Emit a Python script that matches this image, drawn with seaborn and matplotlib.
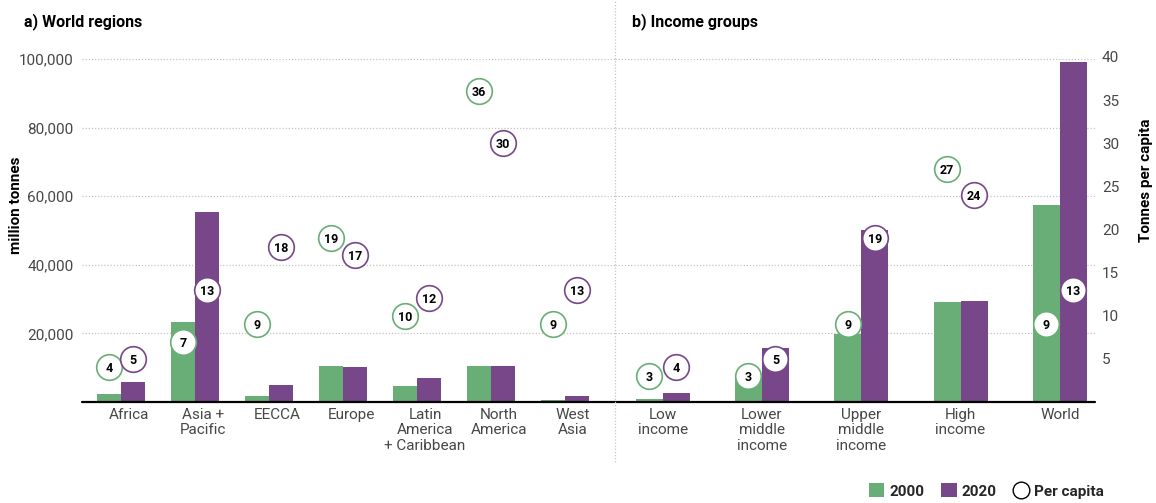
import matplotlib
matplotlib.use("Agg")
import matplotlib.pyplot as plt
import matplotlib.transforms as mtransforms
from matplotlib.lines import Line2D
from matplotlib.patches import Patch
import seaborn as sns
import pandas as pd

sns.set_theme(style="white")
plt.rcParams['font.family'] = ['Roboto', 'DejaVu Sans']

# ---------------- data ----------------
regions = ["Africa", "Asia +\nPacific", "EECCA", "Europe", "Latin\nAmerica\n+ Caribbean",
           "North\nAmerica", "West\nAsia"]
regions_2000 = [2300, 23300, 1800, 10500, 4700, 10600, 700]
regions_2020 = [5800, 55400, 5000, 10100, 7000, 10500, 1800]
regions_pc_2000 = [4, 7, 9, 19, 10, 36, 9]
regions_pc_2020 = [5, 13, 18, 17, 12, 30, 13]

income = ["Low\nincome", "Lower\nmiddle\nincome", "Upper\nmiddle\nincome", "High\nincome", "World"]
income_2000 = [900, 7800, 19700, 29100, 57400]
income_2020 = [2600, 15800, 50100, 29400, 99100]
income_pc_2000 = [3, 3, 9, 27, 9]
income_pc_2020 = [4, 5, 19, 24, 13]

years = ["2000", "2020"]
left_ticks = [20000, 40000, 60000, 80000, 100000]
left_ticklabels = ["20,000", "40,000", "60,000", "80,000", "100,000"]
right_ticks = [5, 10, 15, 20, 25, 30, 35, 40]

GREEN = "#68AE76"
PURPLE = "#77478A"
palette = {"2000": GREEN, "2020": PURPLE}
TXT = "#474747"
GRID = "#c4c4c4"

W, H = 1156, 503
fig = plt.figure(figsize=(W / 100, H / 100), dpi=100)
bottom = (H - 402) / H
height = 352 / H
ax1 = fig.add_axes([82 / W, bottom, (615 - 82) / W, height])
ax2 = fig.add_axes([615 / W, bottom, (1095 - 615) / W, height], sharey=ax1)

def make_df(cats, v0, v1):
    rows = []
    for c, a, b in zip(cats, v0, v1):
        rows.append((c, "2000", a))
        rows.append((c, "2020", b))
    return pd.DataFrame(rows, columns=["cat", "year", "value"])

df1 = make_df(regions, regions_2000, regions_2020)
df2 = make_df(income, income_2000, income_2020)

w1, w2 = 0.66, 0.544
sns.barplot(data=df1, x="cat", y="value", hue="year", order=regions, hue_order=years,
            palette=palette, width=w1, saturation=1, linewidth=0, legend=False, ax=ax1, zorder=2)
sns.barplot(data=df2, x="cat", y="value", hue="year", order=income, hue_order=years,
            palette=palette, width=w2, saturation=1, linewidth=0, legend=False, ax=ax2, zorder=2)

ax1.set_xlim(-0.527, 6.676)
ax2.set_xlim(-0.48, 4.354)
ax1.set_ylim(0, 100000 * 352 / 343)

# per-capita circles on twin axes
PC_TOP = 40.8
def circles(ax, cats, pc0, pc1, width, show):
    tw = ax.twinx()
    tw.set_ylim(0, PC_TOP)
    for s in tw.spines.values():
        s.set_visible(False)
    tw.grid(False)
    for i in range(len(cats)):
        for val, col, dx in ((pc0[i], GREEN, -width / 4), (pc1[i], PURPLE, width / 4)):
            x = i + dx
            tw.scatter([x], [val], s=340, facecolor="white", edgecolor=col,
                       linewidth=1.2, zorder=6)
            tw.text(x, val, str(val), ha="center", va="center_baseline", fontsize=9,
                    fontweight="bold", color="black", zorder=7)
    if show:
        tw.set_yticks(right_ticks)
        tw.tick_params(axis="y", left=False, right=False, length=0, pad=5,
                       labelsize=11, labelcolor=TXT)
    else:
        tw.set_yticks([])
        tw.tick_params(axis="y", left=False, right=False, length=0)
    return tw

circles(ax1, regions, regions_pc_2000, regions_pc_2020, w1, False)
circles(ax2, income, income_pc_2000, income_pc_2020, w2, True)

for ax in (ax1, ax2):
    for s in ax.spines.values():
        s.set_visible(False)
    ax.set_xlabel("")
    ax.set_ylabel("")
    ax.set_yticks(left_ticks)
    ax.yaxis.grid(True, color=GRID, linestyle=(0, (1, 1.5)), linewidth=0.9)
    ax.set_axisbelow(True)
    ax.axhline(0, color="black", linewidth=1.6, zorder=5, clip_on=False)
    ax.tick_params(axis="x", length=0, pad=4, labelsize=11, labelcolor=TXT)
    ax.tick_params(axis="y", left=False, right=False, length=0)
    for lab in ax.get_xticklabels():
        lab.set_linespacing(1.15)

ax1.set_yticklabels(left_ticklabels)
ax1.tick_params(axis="y", length=0, pad=6, labelsize=11, labelcolor=TXT)
ax2.tick_params(axis="y", labelleft=False, labelright=False)

# shift region labels slightly right as in the reference
offset = mtransforms.ScaledTranslation(8 / 100, 0, fig.dpi_scale_trans)
for lab in ax1.get_xticklabels():
    lab.set_transform(lab.get_transform() + offset)

# titles and axis labels
fig.text(24 / W, 1 - 22 / H, "a) World regions", fontsize=11.5, fontweight="bold",
         color="black", ha="left", va="center")
fig.text(632 / W, 1 - 22 / H, "b) Income groups", fontsize=11.5, fontweight="bold",
         color="black", ha="left", va="center")
fig.text(16 / W, 1 - 205 / H, "million tonnes", rotation=90, fontsize=11,
         fontweight="bold", color="black", ha="center", va="center")
fig.text(1146 / W, 1 - 180 / H, "Tonnes per capita", rotation=90, fontsize=11,
         fontweight="bold", color="black", ha="center", va="center")

# panel divider
fig.add_artist(Line2D([615 / W, 615 / W], [1 - 462 / H, 1.0], transform=fig.transFigure,
                      color=GRID, linestyle=(0, (1, 1.5)), linewidth=0.9))

# legend
handles = [Patch(facecolor=GREEN, edgecolor="none", label="2000"),
           Patch(facecolor=PURPLE, edgecolor="none", label="2020"),
           Line2D([], [], marker="o", linestyle="none", markersize=12,
                  markerfacecolor="white", markeredgecolor="black",
                  markeredgewidth=1.0, label="Per capita")]
fig.legend(handles=handles, loc="center right", bbox_to_anchor=(1118 / W, 12 / H),
           ncol=3, frameon=False, handlelength=1.0, handleheight=1.0,
           handletextpad=0.35, columnspacing=1.1,
           prop={"weight": "bold", "size": 11})

fig.savefig("out.png", dpi=100)
